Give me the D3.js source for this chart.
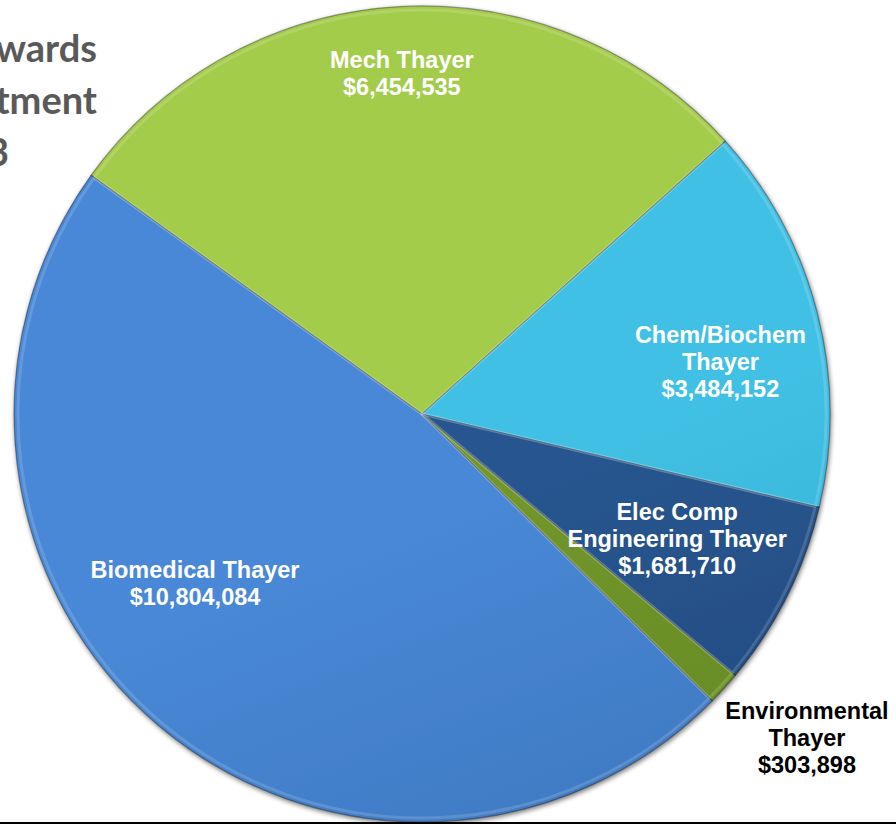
<!DOCTYPE html>
<html><head><meta charset="utf-8">
<script src="https://cdn.jsdelivr.net/npm/d3@7"></script>
<style>html,body{margin:0;padding:0;background:#fff;overflow:hidden}svg{display:block}</style>
</head><body>
<svg id="chart" width="896" height="824"></svg>
<script>
// ---- data ----
const categories = ["Mech Thayer", "Chem/Biochem Thayer", "Elec Comp Engineering Thayer", "Environmental Thayer", "Biomedical Thayer"];
const values = [6454535, 3484152, 1681710, 303898, 10804084];
const labelLines = [["Mech Thayer"], ["Chem/Biochem", "Thayer"], ["Elec Comp", "Engineering Thayer"], ["Environmental", "Thayer"], ["Biomedical Thayer"]];
const titleLines = ["Research Awards", "by Department", "FY 2013"];

// ---- style / layout ----
const colorsTop = ["#a4cc4b", "#40c0e4", "#28558f", "#71962a", "#4888d6"];
const colorsBot = ["#8aab37", "#2b96b6", "#1a406f", "#5a7c20", "#3465a6"];
const labelFill = ["#fff", "#fff", "#fff", "#000", "#fff"];
const labelAngleOffset = [-0.3, 4.4, -0.5, -2.2, 13.1];   // degrees
const labelRadius = [342, 303, 284, 503, 283];
const cx = 422, cy = 414, R = 408;
const fmt = d3.format("$,");

const svg = d3.select("#chart");
const defs = svg.append("defs");

const f = defs.append("filter").attr("id", "shadow").attr("x", "-10%").attr("y", "-10%").attr("width", "120%").attr("height", "120%");
f.append("feGaussianBlur").attr("in", "SourceAlpha").attr("stdDeviation", 2.5).attr("result", "b");
f.append("feOffset").attr("in", "b").attr("dx", 1).attr("dy", 2).attr("result", "o");
f.append("feComponentTransfer").attr("in", "o").attr("result", "o2")
  .append("feFuncA").attr("type", "linear").attr("slope", 0.55);
const fm = f.append("feMerge");
fm.append("feMergeNode").attr("in", "o2");
fm.append("feMergeNode").attr("in", "SourceGraphic");

categories.forEach((c, i) => {
  const g = defs.append("linearGradient").attr("id", "grad" + i)
    .attr("gradientUnits", "userSpaceOnUse")
    .attr("x1", cx - R * 0.4).attr("y1", cy - R).attr("x2", cx + R * 0.4).attr("y2", cy + R);
  g.append("stop").attr("offset", "0%").attr("stop-color", colorsTop[i]);
  g.append("stop").attr("offset", "100%").attr("stop-color", colorsBot[i]);
});

// title (partially off-canvas, as in the reference)
const title = svg.append("g");
title.selectAll("text").data(titleLines).join("text")
  .attr("x", (d, i) => i < 2 ? 97 : 9)
  .attr("y", (d, i) => 62 + i * 52)
  .attr("text-anchor", "end")
  .attr("font-family", "Lato, 'Open Sans', sans-serif")
  .attr("font-weight", "bold")
  .attr("font-size", 38)
  .attr("fill", "#595959")
  .text(d => d);

const start = -54.2 * Math.PI / 180;
const pie = d3.pie().sort(null).value(d => d).startAngle(start).endAngle(start + 2 * Math.PI);
const arcs = pie(values);
const arc = d3.arc().innerRadius(0).outerRadius(R);
const arcInner = d3.arc().innerRadius(0).outerRadius(R - 4);

const g = svg.append("g").attr("transform", `translate(${cx},${cy})`);
const slices = g.append("g").attr("filter", "url(#shadow)");
slices.selectAll("path.s").data(arcs).join("path").attr("class", "s")
  .attr("d", arc)
  .attr("fill", (d, i) => `url(#grad${i})`)
  .attr("stroke", "rgba(0,0,0,0.35)")
  .attr("stroke-width", 1.2);
// subtle bevel highlight
g.append("g").selectAll("path").data(arcs).join("path")
  .attr("d", arcInner)
  .attr("fill", "none")
  .attr("stroke", "rgba(255,255,255,0.15)")
  .attr("stroke-width", 3)
  .attr("stroke-linejoin", "round");

// labels
const lh = 27, cap = 17;
const labels = g.append("g");
arcs.forEach((a, i) => {
  const mid = (a.startAngle + a.endAngle) / 2 + labelAngleOffset[i] * Math.PI / 180;
  const x = Math.sin(mid) * labelRadius[i];
  const y = -Math.cos(mid) * labelRadius[i];
  const lines = labelLines[i].concat([fmt(values[i])]);
  const n = lines.length;
  const firstBaseline = y - ((n - 1) * lh + cap) / 2 + cap;
  labels.append("text")
    .attr("text-anchor", "middle")
    .attr("font-family", "'Liberation Sans', Arial, sans-serif")
    .attr("font-weight", "bold")
    .attr("font-size", 23.5)
    .attr("fill", labelFill[i])
    .selectAll("tspan").data(lines).join("tspan")
    .attr("x", x)
    .attr("y", (d, k) => firstBaseline + k * lh)
    .text(d => d);
});

// bottom rule
svg.append("rect").attr("x", 0).attr("y", 822).attr("width", 896).attr("height", 2).attr("fill", "#000");
</script>
</body></html>
